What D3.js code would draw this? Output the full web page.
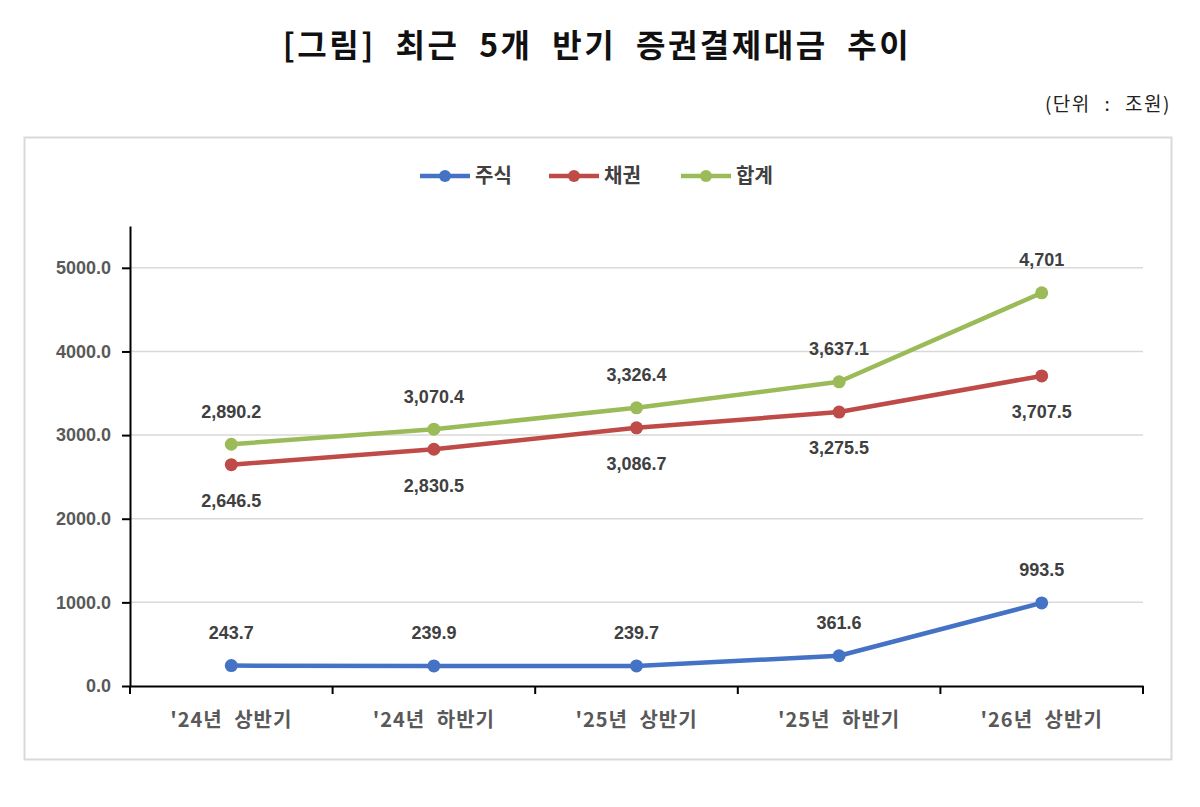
<!DOCTYPE html>
<html>
<head>
<meta charset="utf-8">
<script src="https://cdn.jsdelivr.net/npm/d3@7/dist/d3.min.js"></script>
<style>
  body { margin: 0; background: #fff; }
  text { font-family: "Noto Sans CJK KR", "Noto Sans", sans-serif; }
</style>
</head>
<body>
<div id="chart"></div>
<script>
// CHART DATA
var categories = ["'24년 상반기", "'24년 하반기", "'25년 상반기", "'25년 하반기", "'26년 상반기"];
var stocks = [243.7, 239.9, 239.7, 361.6, 993.5];
var bonds = [2646.5, 2830.5, 3086.7, 3275.5, 3707.5];
var totals = [2890.2, 3070.4, 3326.4, 3637.1, 4701];
var stockLabels = ["243.7", "239.9", "239.7", "361.6", "993.5"];
var bondLabels = ["2,646.5", "2,830.5", "3,086.7", "3,275.5", "3,707.5"];
var totalLabels = ["2,890.2", "3,070.4", "3,326.4", "3,637.1", "4,701"];
var yTicks = [0, 1000, 2000, 3000, 4000, 5000];

// SERIES SETUP
var series = [
   { name: "주식", values: stocks, labels: stockLabels, color: "#4472C4", dy: -33 },
   { name: "채권", values: bonds, labels: bondLabels, color: "#BE4B48", dy: 36 },
   { name: "합계", values: totals, labels: totalLabels, color: "#9BBB59", dy: -33 }
];

var width = 1200, height = 807;
var plot = { left: 130, right: 1143, top: 226, bottom: 686 };

var svg = d3.select('#chart').append('svg')
   .attr('width', width)
   .attr('height', height);

// TITLE
svg.append('text')
   .attr('x', 597).attr('y', 57)
   .attr('text-anchor', 'middle')
   .attr('font-size', 32).attr('font-weight', 'bold')
   .attr('letter-spacing', 2.5).attr('word-spacing', 10)
   .attr('fill', '#111')
   .text('[그림] 최근 5개 반기 증권결제대금 추이');

// UNIT
svg.append('text')
   .attr('x', 1171).attr('y', 111)
   .attr('text-anchor', 'end')
   .attr('font-size', 19)
   .attr('letter-spacing', 1.5).attr('word-spacing', 8)
   .attr('fill', '#222')
   .text('(단위 : 조원)');

// OUTER BOX
svg.append('rect')
   .attr('x', 24.5).attr('y', 137.5)
   .attr('width', 1147).attr('height', 622)
   .attr('fill', 'none')
   .attr('stroke', '#d9d9d9')
   .attr('stroke-width', 2);

// SCALES
var xScale = d3.scaleBand()
   .domain(categories)
   .range([plot.left, plot.right]);

var yScale = d3.scaleLinear()
   .domain([0, 5500])
   .range([plot.bottom, plot.top]);

var cx = (d) => xScale(d) + xScale.bandwidth() / 2;

// GRIDLINES
svg.append('g')
   .selectAll('line')
   .data(yTicks.filter(d => d > 0))
   .enter().append('line')
      .attr('x1', plot.left).attr('x2', plot.right)
      .attr('y1', d => yScale(d)).attr('y2', d => yScale(d))
      .attr('stroke', '#d9d9d9')
      .attr('stroke-width', 1.5);

// Y AXIS
var yAxis = svg.append('g')
   .attr('transform', 'translate(' + plot.left + ',0)')
   .call(d3.axisLeft(yScale).tickValues(yTicks).tickFormat(d3.format('.1f')).tickSize(8).tickSizeOuter(0));
yAxis.select('.domain').attr('stroke', '#000').attr('stroke-width', 2);
yAxis.selectAll('.tick line').attr('stroke', '#000').attr('stroke-width', 2);
yAxis.selectAll('.tick text')
   .attr('x', -19)
   .attr('font-size', 18).attr('font-weight', 'bold')
   .attr('fill', '#595959')
   .style('font-family', '"Liberation Sans", Arial, sans-serif');

// X AXIS
var xAxis = svg.append('g')
   .attr('transform', 'translate(0,' + plot.bottom + ')')
   .call(d3.axisBottom(xScale).tickSize(0).tickSizeOuter(0));
xAxis.select('.domain').attr('stroke', '#000').attr('stroke-width', 2);
xAxis.selectAll('.tick text')
   .attr('y', 27)
   .attr('font-size', 20).attr('font-weight', 'bold')
   .attr('letter-spacing', 1).attr('word-spacing', 6)
   .attr('fill', '#595959');

// X TICK MARKS AT BAND EDGES
svg.append('g')
   .selectAll('line')
   .data(categories)
   .enter().append('line')
      .attr('x1', d => xScale(d)).attr('x2', d => xScale(d))
      .attr('y1', plot.bottom).attr('y2', plot.bottom + 8)
      .attr('stroke', '#000').attr('stroke-width', 2);
svg.append('line')
   .attr('x1', plot.right).attr('x2', plot.right)
   .attr('y1', plot.bottom).attr('y2', plot.bottom + 8)
   .attr('stroke', '#000').attr('stroke-width', 2);

// LINES, DOTS AND LABELS
var pathify = d3.line()
   .x((d, i) => cx(categories[i]))
   .y(d => yScale(d));

series.forEach(s => {
   svg.append('path')
      .attr('d', pathify(s.values))
      .attr('fill', 'none')
      .attr('stroke', s.color)
      .attr('stroke-width', 4.5)
      .attr('stroke-linejoin', 'round');

   svg.append('g')
      .selectAll('circle')
      .data(s.values)
      .enter().append('circle')
         .attr('cx', (d, i) => cx(categories[i]))
         .attr('cy', d => yScale(d))
         .attr('r', 6.5)
         .attr('fill', s.color);

   svg.append('g')
      .selectAll('text')
      .data(s.values)
      .enter().append('text')
         .attr('x', (d, i) => cx(categories[i]))
         .attr('y', d => yScale(d) + s.dy)
         .attr('dy', '0.35em')
         .attr('text-anchor', 'middle')
         .attr('font-size', 18).attr('font-weight', 'bold')
         .attr('fill', '#404040')
         .style('font-family', '"Liberation Sans", Arial, sans-serif')
         .text((d, i) => s.labels[i]);
});

// LEGEND
var legendX = [420, 549, 681];
var legend = svg.append('g');
series.forEach((s, i) => {
   var g = legend.append('g').attr('transform', 'translate(' + legendX[i] + ',176)');
   g.append('line')
      .attr('x1', 0).attr('x2', 50)
      .attr('stroke', s.color).attr('stroke-width', 4.5);
   g.append('circle')
      .attr('cx', 25).attr('r', 6).attr('fill', s.color);
   g.append('text')
      .attr('x', 55).attr('dy', '0.35em')
      .attr('font-size', 20).attr('font-weight', 'bold')
      .attr('fill', '#404040')
      .text(s.name);
});
</script>
</body>
</html>
